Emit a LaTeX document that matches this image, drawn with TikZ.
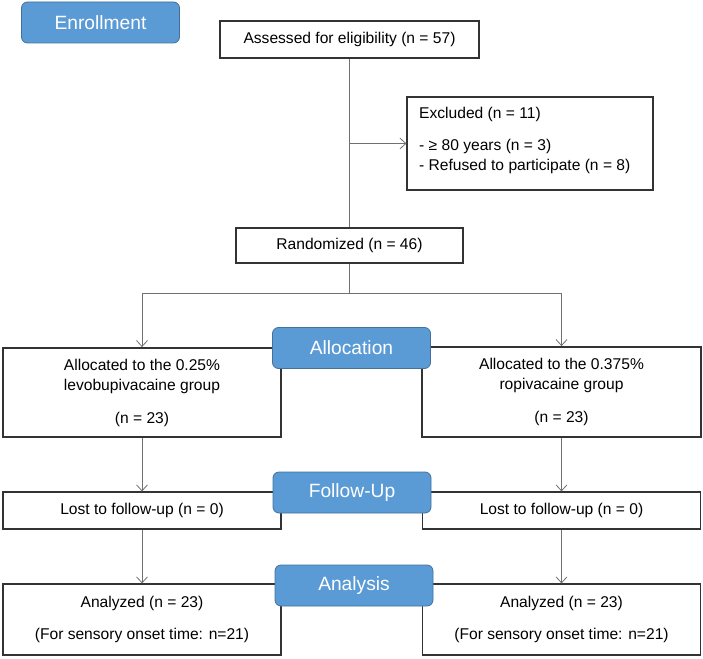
\documentclass[tikz,border=0pt]{standalone}
\usepackage{fontspec}
\setmainfont{Liberation Sans}
\usetikzlibrary{arrows.meta}
\definecolor{stageblue}{HTML}{5B9BD5}
\definecolor{stageedge}{HTML}{41719C}
\definecolor{edgegray}{HTML}{707070}

\begin{document}
\begin{tikzpicture}[x=1pt, y=-1pt]
  \tikzset{
    box/.style={draw=black!80, line width=1.2pt, rectangle, inner sep=0pt, align=center,
      font=\fontsize{15.6}{20}\selectfont},
    stage/.style={draw=stageedge, line width=0.8pt, fill=stageblue, rounded corners=6pt,
      text=white, minimum width=158pt, minimum height=41pt, font=\fontsize{19.2}{22}\selectfont},
    link/.style={draw=edgegray, line width=0.8pt},
    arrow/.style={link, -{Straight Barb[length=6pt, width=11pt]}}
  }
  \useasboundingbox (0,0) rectangle (703,658);

  % Enrollment
  \node [box, minimum width=259pt, minimum height=37pt] (assess) at (349.5, 39.5) {Assessed for eligibility (n = 57)};
  \node [box, minimum width=246pt, minimum height=93pt] (excl) at (530, 143.5) {};
  \node [anchor=north west, inner sep=0pt, align=left, font=\fontsize{15.6}{20}\selectfont] (excltext) at (419, 106.5)
    {Excluded (n = 11)\\[12pt]- ≥ 80 years (n = 3)\\- Refused to participate (n = 8)};
  \node [box, minimum width=227pt, minimum height=35pt] (rand) at (349.5, 245.5) {Randomized (n = 46)};

  % Allocation
  \node [box, line width=1.8pt, minimum width=278pt, minimum height=89pt] (alloc-l) at (142, 392.5)
    {Allocated to the 0.25\%\\levobupivacaine group\\[13pt](n = 23)};
  \node [box, line width=1.8pt, minimum width=279pt, minimum height=90pt] (alloc-r) at (561.5, 392)
    {Allocated to the 0.375\%\\ropivacaine group\\[13pt](n = 23)};

  % Follow-up and analysis
  \foreach \s/\x in {l/142, r/561.5} {
    \node [box, minimum width=278pt, minimum height=37pt] (lost-\s) at (\x, 510.5) {Lost to follow-up (n = 0)};
    \node [box, minimum width=278pt, minimum height=71pt] (anal-\s) at (\x, 619.5)
      {Analyzed (n = 23)\\[12pt](For sensory onset time: n=21)};
  }

  % Edges
  \draw [link] (assess) -- (rand);
  \coordinate (excljoin) at (assess.south |- excl.west);
  \draw [arrow] (excljoin) -- (excl.west);

  \coordinate (split) at (349.5, 293);
  \draw [link] (rand) -- (split);
  \draw [arrow] (split) -| (alloc-l.north);
  \draw [arrow] (split) -| (alloc-r.north);

  \foreach \s in {l, r} {
    \draw [arrow] (alloc-\s) -- (lost-\s);
    \draw [arrow] (lost-\s) -- (anal-\s);
  }

  % Stage labels
  \node [stage] (enroll) at (100.5, 22.5) {Enrollment};
  \node [stage] (allocst) at (351.5, 348) {Allocation};
  \node [stage] (followst) at (352, 492.5) {Follow-Up};
  \node [stage] (analst) at (354, 585.5) {Analysis};

\end{tikzpicture}
\end{document}
